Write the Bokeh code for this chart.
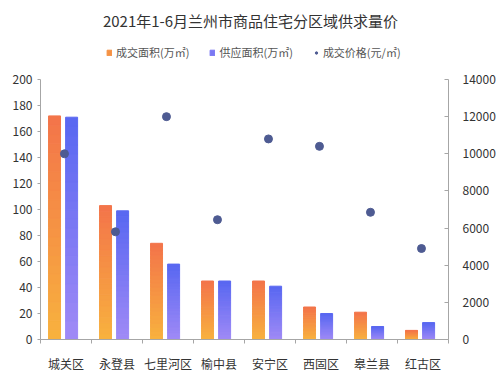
from bokeh.plotting import figure
from bokeh.models import (Range1d, LinearAxis, FixedTicker, ColumnDataSource, Label,
                          Legend, LegendItem)
from bokeh.embed import file_html
from bokeh.resources import INLINE

# ---- data ----
districts = ["城关区", "永登县", "七里河区", "榆中县", "安宁区", "西固区", "皋兰县", "红古区"]
deal_area = [172, 103, 74, 45, 45, 25, 21, 7]          # 成交面积(万㎡)
supply_area = [171, 99, 58, 45, 41, 20, 10, 13]         # 供应面积(万㎡)
deal_price = [10000, 5800, 12000, 6450, 10800, 10400, 6850, 4900]  # 成交价格(元/㎡)
area_ticks = list(range(0, 201, 20))
price_ticks = list(range(0, 14001, 2000))

title_text = "2021年1-6月兰州市商品住宅分区域供求量价"
FONT = "Noto Sans CJK SC"

# ---- layout (pixels) ----
W, H = 500, 375
B_LEFT, B_RIGHT, B_TOP, B_BOTTOM = 40, 52, 4, 36
AXIS_PX = 260  # pixel height of the 0..200 axis
frame_h = H - B_TOP - B_BOTTOM
scale = frame_h / AXIS_PX
y_top = area_ticks[-1] * scale
p_top = price_ticks[-1] * scale

p = figure(width=W, height=H, output_backend="svg", toolbar_location=None,
           x_range=Range1d(0, len(districts)), y_range=Range1d(0, y_top),
           min_border_left=B_LEFT, min_border_right=B_RIGHT, min_border_top=B_TOP,
           min_border_bottom=B_BOTTOM)
p.extra_y_ranges = {"price": Range1d(0, p_top)}
p.outline_line_color = None
p.xgrid.visible = False
p.ygrid.visible = False
p.background_fill_color = "white"
p.border_fill_color = "white"


def hex2rgb(h):
    h = h.lstrip("#")
    return tuple(int(h[i:i + 2], 16) for i in (0, 2, 4))


def mix(c0, c1, t):
    a, b = hex2rgb(c0), hex2rgb(c1)
    return "#%02x%02x%02x" % tuple(int(round(a[i] + (b[i] - a[i]) * t)) for i in range(3))


def gradient_source(values, offset, c_bottom, c_top, n=24):
    xs, bots, tops, cols = [], [], [], []
    for i, v in enumerate(values):
        for k in range(n):
            xs.append(i + 0.5 + offset)
            bots.append(v * k / n)
            tops.append(v * (k + 1) / n)
            cols.append(mix(c_bottom, c_top, (k + 0.5) / n))
    return ColumnDataSource(dict(x=xs, bottom=bots, top=tops, color=cols)), n


bw = 0.235
src_o, n_o = gradient_source(deal_area, -0.225, "#f8b23e", "#f3744a")
src_b, n_b = gradient_source(supply_area, 0.11, "#a08af6", "#5867f1")
r_o = p.vbar(x="x", bottom="bottom", top="top", width=bw, fill_color="color",
             line_color="color", line_width=1, source=src_o)
r_b = p.vbar(x="x", bottom="bottom", top="top", width=bw, fill_color="color",
             line_color="color", line_width=1, source=src_b)

price_src = ColumnDataSource(dict(x=[i + 0.47 for i in range(len(districts))], y=deal_price))
r_p = p.scatter(x="x", y="y", size=8, color="#4e5b92", y_range_name="price", source=price_src)

# axes
ax_col = "#a6a6a6"
lab_col = "#333333"
p.yaxis.ticker = FixedTicker(ticks=area_ticks)
p.yaxis.bounds = (area_ticks[0], area_ticks[-1])
p.yaxis.axis_line_color = ax_col
p.yaxis.major_tick_line_color = ax_col
p.yaxis.major_tick_out = 3
p.yaxis.major_tick_in = 0
p.yaxis.minor_tick_line_color = None
p.yaxis.major_label_text_font = FONT
p.yaxis.major_label_text_font_size = "12px"
p.yaxis.major_label_text_color = lab_col
p.yaxis.major_label_standoff = 5

ry = LinearAxis(y_range_name="price", ticker=FixedTicker(ticks=price_ticks),
                bounds=(price_ticks[0], price_ticks[-1]))
ry.axis_line_color = ax_col
ry.major_tick_line_color = ax_col
ry.major_tick_in = 4
ry.major_tick_out = 0
ry.minor_tick_line_color = None
ry.major_label_text_font = FONT
ry.major_label_text_font_size = "12px"
ry.major_label_text_color = lab_col
ry.major_label_standoff = 14
p.add_layout(ry, "right")

centers = [i + 0.5 for i in range(len(districts))]
p.xaxis.ticker = FixedTicker(ticks=centers, minor_ticks=list(range(len(districts) + 1)))
p.xaxis.major_label_overrides = {c: d for c, d in zip(centers, districts)}
p.xaxis.axis_line_color = ax_col
p.xaxis.major_tick_line_color = None
p.xaxis.minor_tick_line_color = ax_col
p.xaxis.minor_tick_out = 4
p.xaxis.minor_tick_in = 0
p.xaxis.major_label_text_font = FONT
p.xaxis.major_label_text_font_size = "12px"
p.xaxis.major_label_text_color = lab_col
p.xaxis.major_label_standoff = 9

frame_bottom = H - B_BOTTOM
p.add_layout(Label(x=W / 2 - B_LEFT, y=frame_bottom - 20, x_units="screen", y_units="screen",
                   text=title_text, text_font=FONT, text_font_size="15px",
                   text_color="#333333", text_align="center", text_baseline="middle"))

legend = Legend(items=[
    LegendItem(label="成交面积(万㎡)", renderers=[r_o], index=n_o // 2),
    LegendItem(label="供应面积(万㎡)", renderers=[r_b], index=n_b // 2),
    LegendItem(label="成交价格(元/㎡)", renderers=[r_p]),
], orientation="horizontal", location=(106 - B_LEFT, frame_bottom - 60), border_line_color=None,
    background_fill_alpha=0, label_text_font=FONT, label_text_font_size="11px",
    label_text_color="#555555", glyph_width=6, glyph_height=7, label_standoff=4,
    spacing=20, padding=0, margin=0, label_height=12)
p.add_layout(legend, "center")

open("out.html", "w").write(file_html(p, INLINE))
